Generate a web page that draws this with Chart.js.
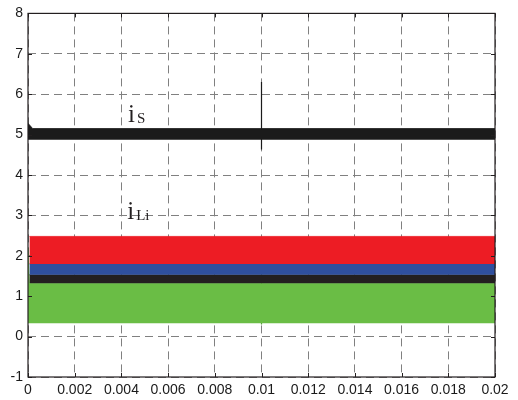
<!DOCTYPE html>
<html>
<head>
<meta charset="utf-8">
<script src="https://cdn.jsdelivr.net/npm/chart.js@4/dist/chart.umd.min.js"></script>
<style>
  html, body { margin: 0; padding: 0; background: #fff; }
  #wrap { width: 518px; height: 400px; }
</style>
</head>
<body>
<div id="wrap"><canvas id="c" width="518" height="400"></canvas></div>
<script>
// Axis ticks
const xTicks = [0, 0.002, 0.004, 0.006, 0.008, 0.01, 0.012, 0.014, 0.016, 0.018, 0.02];
const yTicks = [-1, 0, 1, 2, 3, 4, 5, 6, 7, 8];

// Source current iS: ripple envelope (A) over time (s)
const isTime  = [0, 0.0002, 0.02];
const isUpper = [5.28, 5.15, 5.15];
const isLower = [4.87, 4.87, 4.87];
// load step at t = 0.01 s
const isStepTime = [0.01, 0.01];
const isStepVal  = [4.63, 6.3];

// Load currents iLi: ripple envelopes (A)
const liTime     = [0.00006, 0.02];
const redUpper   = [2.48, 2.48];
const redLower   = [1.80, 1.80];
const blueUpper  = [1.80, 1.80];
const blueLower  = [1.53, 1.53];
const blackUpper = [1.53, 1.53];
const blackLower = [1.32, 1.32];
const greenTime  = [0, 0.00006, 0.02];
const greenUpper = [2.2, 1.32, 1.32];
const greenLower = [0.33, 0.33, 0.33];
const greenStepTime = [0.01, 0.01];
const greenStepVal  = [0.3, 2.0];

const pts = (xs, ys) => xs.map((x, i) => ({ x: x, y: ys[i] }));

function band(xs, lo, hi, color) {
  return [
    { data: pts(xs, lo), borderWidth: 0, pointRadius: 0, fill: false, borderColor: color },
    { data: pts(xs, hi), borderWidth: 0.8, pointRadius: 0, fill: '-1',
      borderColor: color, backgroundColor: color }
  ];
}

const datasets = [
  ...band(isTime, isLower, isUpper, '#1b1b1b'),
  ...band(liTime, redLower, redUpper, '#ED1C24'),
  ...band(liTime, blueLower, blueUpper, '#2F4F9E'),
  ...band(liTime, blackLower, blackUpper, '#231F20'),
  ...band(greenTime, greenLower, greenUpper, '#6ABD45'),
  { data: pts(isStepTime, isStepVal), borderColor: '#1b1b1b', borderWidth: 1.2, pointRadius: 0, fill: false },
  { data: pts(greenStepTime, greenStepVal), borderColor: '#4f9a35', borderWidth: 1.2, pointRadius: 0, fill: false }
];

// Frame, inward tick marks and the curve names
const framePlugin = {
  id: 'frame',
  afterDraw(chart) {
    const { ctx, chartArea: a, scales: { x, y } } = chart;
    ctx.save();
    ctx.strokeStyle = '#231F20';
    ctx.lineWidth = 1.2;
    ctx.strokeRect(a.left, a.top, a.right - a.left, a.bottom - a.top);
    ctx.lineWidth = 1;
    ctx.beginPath();
    xTicks.forEach(v => {
      const px = Math.round(x.getPixelForValue(v)) + 0.5;
      ctx.moveTo(px, a.bottom); ctx.lineTo(px, a.bottom - 4);
      ctx.moveTo(px, a.top); ctx.lineTo(px, a.top + 4);
    });
    yTicks.forEach(v => {
      const py = Math.round(y.getPixelForValue(v)) + 0.5;
      ctx.moveTo(a.left, py); ctx.lineTo(a.left + 4, py);
      ctx.moveTo(a.right, py); ctx.lineTo(a.right - 4, py);
    });
    ctx.stroke();

    ctx.fillStyle = '#231F20';
    ctx.textBaseline = 'alphabetic';
    ctx.textAlign = 'left';
    const label = (xv, yv, main, sub) => {
      const px = x.getPixelForValue(xv), py = y.getPixelForValue(yv);
      ctx.font = '25px "Liberation Serif", "DejaVu Serif", serif';
      ctx.fillText(main, px, py);
      const w = ctx.measureText(main).width;
      ctx.font = '15px "Liberation Serif", "DejaVu Serif", serif';
      ctx.fillText(sub, px + w + 2, py + 1);
    };
    label(0.00428, 5.31, 'i', 'S');
    label(0.00425, 2.90, 'i', 'Li');
    ctx.restore();
  }
};

new Chart(document.getElementById('c'), {
  type: 'line',
  data: { datasets },
  options: {
    responsive: false,
    animation: false,
    events: [],
    layout: { padding: { top: 9, right: 23, left: 0, bottom: 0 } },
    plugins: { legend: { display: false }, tooltip: { enabled: false } },
    scales: {
      x: {
        type: 'linear', min: 0, max: 0.02,
        afterBuildTicks: s => { s.ticks = xTicks.map(v => ({ value: v })); },
        afterFit: s => { s.height = 23; },
        grid: { color: '#808080', lineWidth: 1, drawTicks: false },
        border: { display: false, dash: [8, 5] },
        ticks: {
          padding: 5, color: '#1a1a1a', maxRotation: 0, autoSkip: false,
          font: { family: '"Liberation Sans", Arial, sans-serif', size: 14 },
          callback: v => String(v)
        }
      },
      y: {
        type: 'linear', min: -1, max: 8,
        afterBuildTicks: s => { s.ticks = yTicks.map(v => ({ value: v })); },
        afterFit: s => { s.width = 28; },
        grid: { color: '#808080', lineWidth: 1, drawTicks: false },
        border: { display: false, dash: [8, 5] },
        ticks: {
          padding: 5, color: '#1a1a1a', autoSkip: false,
          font: { family: '"Liberation Sans", Arial, sans-serif', size: 14 },
          callback: v => String(v)
        }
      }
    }
  },
  plugins: [framePlugin]
});
</script>
</body>
</html>
